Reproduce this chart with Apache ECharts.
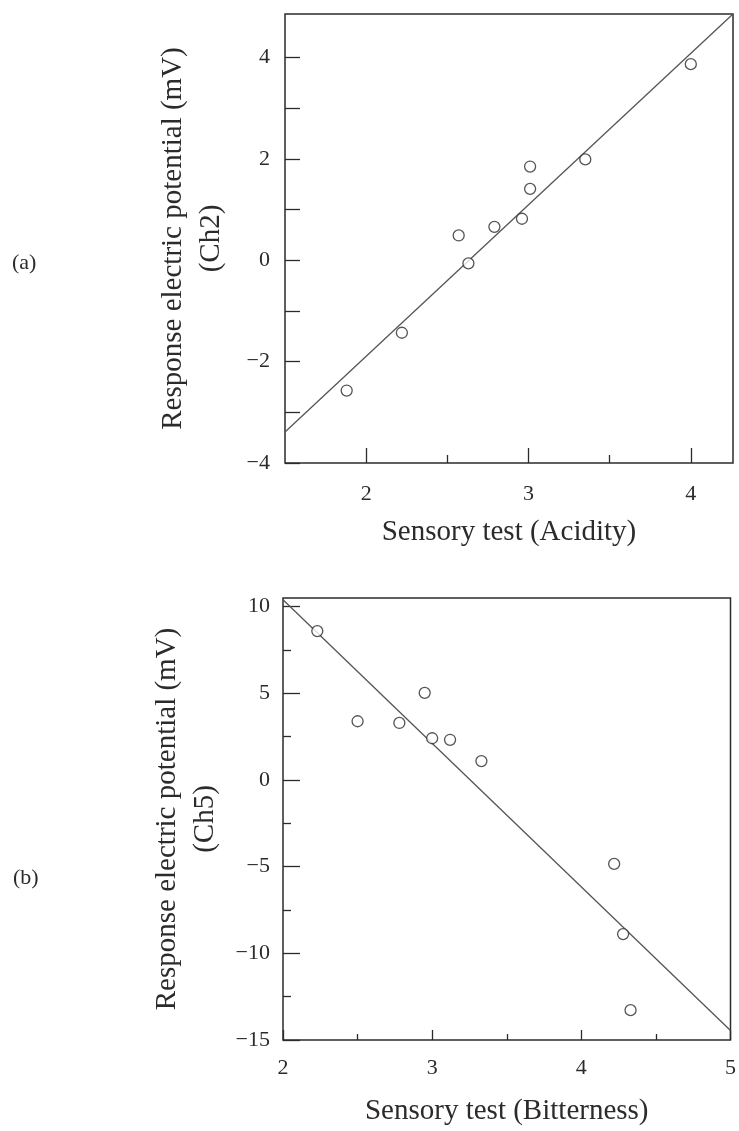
<!DOCTYPE html>
<html>
<head>
<meta charset="utf-8">
<script src="https://cdn.jsdelivr.net/npm/echarts@6/dist/echarts.min.js"></script>
<style>
  html, body { margin: 0; padding: 0; background: #fff; }
  #main { width: 739px; height: 1131px; }
</style>
</head>
<body>
<div id="main"></div>
<script>
// (a) acidity vs response of Ch2
const acidX = [1.88, 2.22, 2.57, 2.63, 2.79, 2.96, 3.01, 3.01, 3.35, 4.0];
const acidY = [-2.57, -1.43, 0.49, -0.06, 0.66, 0.82, 1.41, 1.85, 1.99, 3.87];
const acidFitX = [1.5, 4.26];
const acidFitY = [-3.39, 4.86];
const acidXTicks = [2, 3, 4];
const acidXMinor = [2.5, 3.5];
const acidYTicks = [-4, -3, -2, -1, 0, 1, 2, 3, 4];
const acidYLabels = [-4, -2, 0, 2, 4];

// (b) bitterness vs response of Ch5
const bitX = [2.23, 2.5, 2.78, 2.95, 3.0, 3.12, 3.33, 4.22, 4.28, 4.33];
const bitY = [8.59, 3.39, 3.29, 5.03, 2.41, 2.32, 1.09, -4.84, -8.89, -13.28];
const bitFitX = [2, 5];
const bitFitY = [10.4, -14.45];
const bitXTicks = [2, 3, 4, 5];
const bitXMinor = [2.5, 3.5, 4.5];
const bitYTicks = [-15, -10, -5, 0, 5, 10];
const bitYMinor = [-12.5, -7.5, -2.5, 2.5, 7.5];

const FONT = '"Liberation Serif", "Times New Roman", serif';
const INK = '#2b2b2b';

function pairs(xs, ys) {
  return xs.map((x, i) => [x, ys[i]]);
}

// value axis that only draws ticks (and optionally labels); the frame comes from the grid border
function valAxis(gridIndex, min, max, ticks, labels, tickLen, margin, extra) {
  return Object.assign({
    type: 'value',
    gridIndex: gridIndex,
    min: min,
    max: max,
    axisLine: { show: false, onZero: false },
    splitLine: { show: false },
    axisTick: {
      show: true, inside: true, length: tickLen, customValues: ticks,
      lineStyle: { color: INK, width: 1.3 }
    },
    axisLabel: labels ? {
      show: true, customValues: labels, margin: margin,
      color: INK, fontFamily: FONT, fontSize: 22,
      formatter: v => String(v).replace('-', '\u2212')
    } : { show: false },
    nameTextStyle: { color: INK, fontFamily: FONT, fontSize: 29, lineHeight: 38 }
  }, extra || {});
}

const chart = echarts.init(document.getElementById('main'));

chart.setOption({
  animation: false,
  backgroundColor: '#fff',
  grid: [
    { left: 285, top: 14, width: 448, height: 449, show: true, borderColor: INK, borderWidth: 1.5, backgroundColor: 'transparent' },
    { left: 283, top: 598, width: 451, height: 450, show: true, borderColor: INK, borderWidth: 1.5, backgroundColor: 'transparent' }
  ],
  xAxis: [
    valAxis(0, 1.5, 4.26, acidXTicks, acidXTicks, 15, 20, {
      position: 'bottom', name: 'Sensory test (Acidity)', nameLocation: 'middle', nameGap: 50
    }),
    valAxis(0, 1.5, 4.26, acidXMinor, null, 8, 0, { position: 'bottom' }),
    valAxis(1, 2, 5, bitXTicks, bitXTicks, 10, 17, {
      position: 'bottom', name: 'Sensory test (Bitterness)', nameLocation: 'middle', nameGap: 52
    }),
    valAxis(1, 2, 5, bitXMinor, null, 6, 0, { position: 'bottom' })
  ],
  yAxis: [
    valAxis(0, -4, 4.86, acidYTicks, acidYLabels, 15, 15, {
      position: 'left', name: 'Response electric potential (mV)\n(Ch2)',
      nameLocation: 'middle', nameRotate: 90, nameGap: 55
    }),
    valAxis(1, -15, 10.5, bitYTicks, bitYTicks, 17, 13, {
      position: 'left', name: 'Response electric potential (mV)\n(Ch5)',
      nameLocation: 'middle', nameRotate: 90, nameGap: 55
    }),
    valAxis(1, -15, 10.5, bitYMinor, null, 8, 0, { position: 'left' })
  ],
  graphic: [
    { type: 'text', left: 12, top: 252, style: { text: '(a)', font: '22px "Liberation Serif"', fill: INK } },
    { type: 'text', left: 13, top: 867, style: { text: '(b)', font: '22px "Liberation Serif"', fill: INK } }
  ],
  series: [
    {
      type: 'line', xAxisIndex: 0, yAxisIndex: 0, symbol: 'none', z: 2,
      data: pairs(acidFitX, acidFitY),
      lineStyle: { color: '#555', width: 1.3 }
    },
    {
      type: 'scatter', xAxisIndex: 0, yAxisIndex: 0, symbol: 'circle', symbolSize: 11, z: 3,
      data: pairs(acidX, acidY),
      itemStyle: { color: '#fff', borderColor: INK, borderWidth: 1.3 }
    },
    {
      type: 'line', xAxisIndex: 2, yAxisIndex: 1, symbol: 'none', z: 2,
      data: pairs(bitFitX, bitFitY),
      lineStyle: { color: '#555', width: 1.3 }
    },
    {
      type: 'scatter', xAxisIndex: 2, yAxisIndex: 1, symbol: 'circle', symbolSize: 11, z: 3,
      data: pairs(bitX, bitY),
      itemStyle: { color: '#fff', borderColor: INK, borderWidth: 1.3 }
    }
  ]
});
</script>
</body>
</html>
